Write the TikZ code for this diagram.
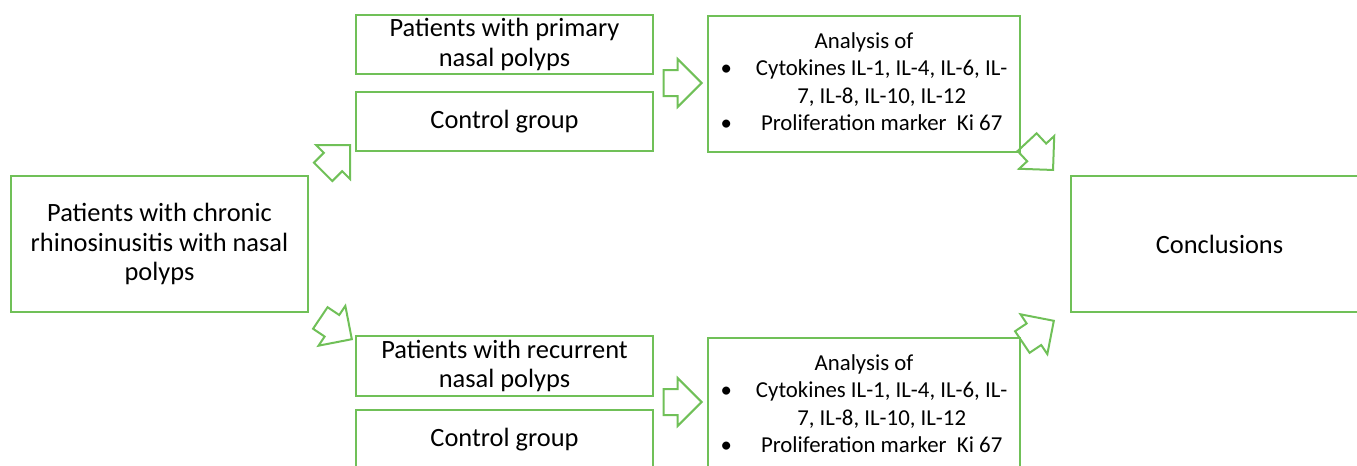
\documentclass[tikz,border=0pt]{standalone}
\usepackage{fontspec}
\setmainfont{Carlito}
\usetikzlibrary{shapes,arrows,positioning}
\definecolor{boxgreen}{RGB}{112,192,88}

\begin{document}
\begin{tikzpicture}[x=0.5pt,y=-0.5pt]
            \tikzstyle{box}=[rectangle,draw=boxgreen,line width=1pt,inner sep=2pt,align=center,font=\fontsize{13.2}{14.6}\selectfont]
            \tikzstyle{flat}=[box,minimum width=148.5pt,minimum height=29.5pt]   % patient groups
            \tikzstyle{tall}=[box,minimum width=148.5pt,minimum height=68pt]     % start / end
            \tikzstyle{ana}=[box,minimum width=156pt,minimum height=68pt,font=\fontsize{11.4}{13.6}\selectfont] % analysis
            \tikzstyle{blk}=[single arrow,draw=boxgreen,line width=1pt,anchor=tip,minimum height=19pt,
                             inner xsep=0pt,inner ysep=6pt,single arrow head extend=5.5pt,text height=0pt,text depth=0pt]

            \useasboundingbox (0,0) rectangle (1357,466);

            \node[tall] (src) at (159.5,244) {Patients with chronic\\rhinosinusitis with nasal\\polyps};

            \node[flat] (prim) at (504.5,44.5) {Patients with primary\\nasal polyps};
            \node[flat] (ctrlA) at (504.5,121.5) {Control group};
            \node[flat] (rec) at (504.5,366) {Patients with recurrent\\nasal polyps};
            \node[flat] (ctrlB) at (504.5,439.5) {Control group};

            \node[ana] (anaA) at (864,84) {\begin{tabular}{@{}c@{\hspace{12pt}}c@{}}
                \multicolumn{2}{c}{Analysis of}\\
                \textbullet & Cytokines IL-1, IL-4, IL-6, IL-\\
                            & 7, IL-8, IL-10, IL-12\\
                \textbullet & Proliferation marker\ \ Ki 67
                \end{tabular}};
            \node[ana] (anaB) at (864,406) {\begin{tabular}{@{}c@{\hspace{12pt}}c@{}}
                \multicolumn{2}{c}{Analysis of}\\
                \textbullet & Cytokines IL-1, IL-4, IL-6, IL-\\
                            & 7, IL-8, IL-10, IL-12\\
                \textbullet & Proliferation marker\ \ Ki 67
                \end{tabular}};

            \node[tall] (concl) at (1219.5,244) {Conclusions};

            % block arrows
            \node[blk,rotate=45] (s2p) at (351,144) {};
            \node[blk,rotate=-34] (s2r) at (353,340) {};
            \node[blk] (p2a) at (703,83) {};
            \node[blk] (r2a) at (703,402) {};
            \node[blk,rotate=-47] (a2c) at (1054,171) {};
            \node[blk,rotate=34] (b2c) at (1055,320) {};
        \end{tikzpicture}
\end{document}
